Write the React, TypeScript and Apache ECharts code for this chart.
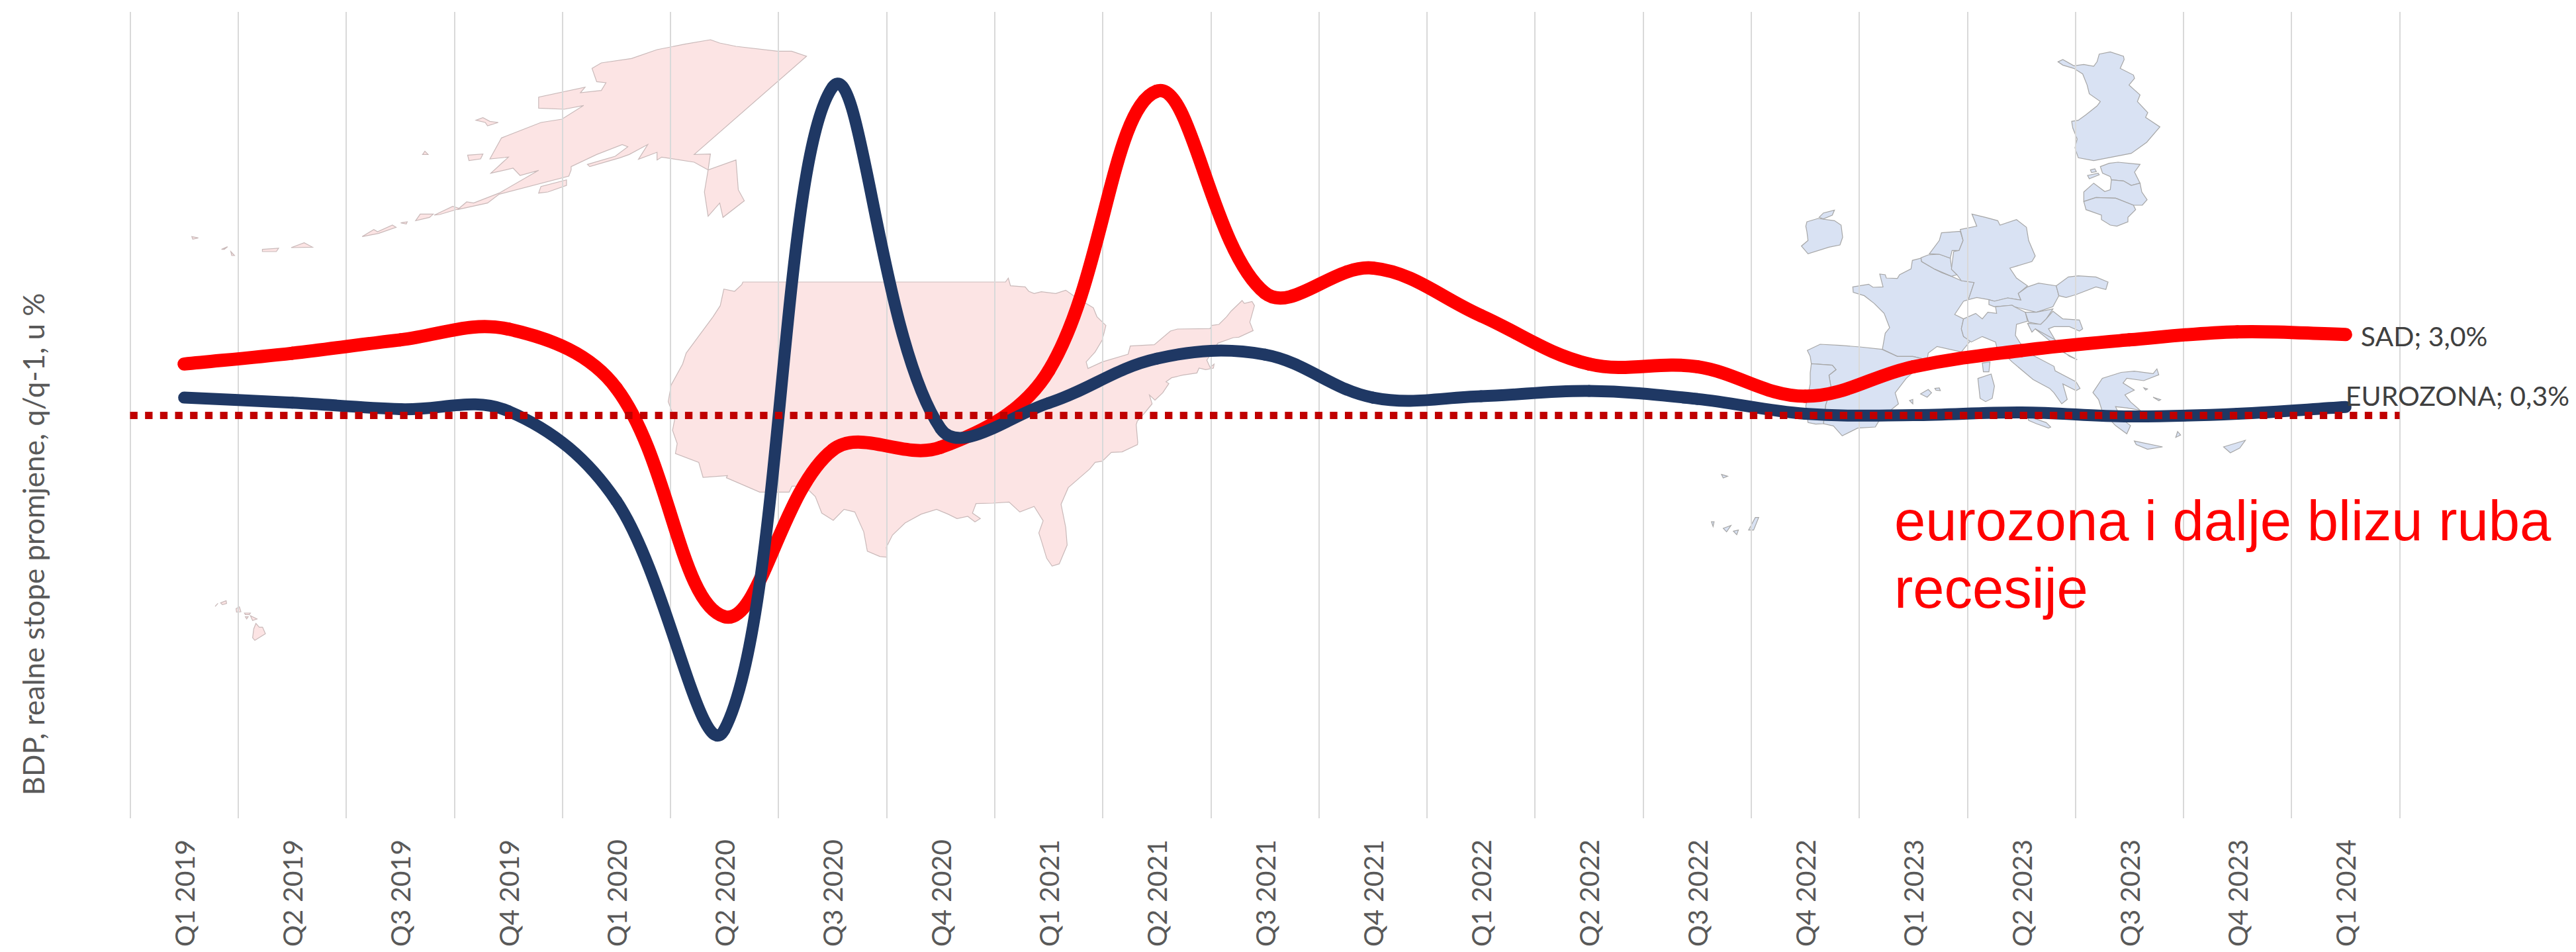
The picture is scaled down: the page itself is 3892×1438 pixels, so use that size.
import React, { useEffect, useRef } from "react";
import * as echarts from "echarts";

const categories = ["Q1 2019","Q2 2019","Q3 2019","Q4 2019","Q1 2020","Q2 2020","Q3 2020","Q4 2020","Q1 2021","Q2 2021","Q3 2021","Q4 2021","Q1 2022","Q2 2022","Q3 2022","Q4 2022","Q1 2023","Q2 2023","Q3 2023","Q4 2023","Q1 2024"];
const sad = [1.9,2.3,2.8,3.2,1.0,-7.5,-1.3,-1.2,1.65,12.05,4.55,5.47,3.7,1.9,1.8,0.7,1.8,2.4,2.8,3.1,3.0];
const eurozona = [0.65,0.46,0.22,0.15,-3.2,-11.7,12.2,-0.5,0.45,2.1,2.25,0.65,0.7,0.9,0.6,0.05,0.0,0.1,-0.05,0.05,0.3];
const sadLabel = "SAD; 3,0%";
const euroLabel = "EUROZONA; 0,3%";
const yTitle = "BDP, realne stope promjene, q/q-1, u %";
const note = "eurozona i dalje blizu ruba\nrecesije";

type Pt = [number, number];
const z = (ox: number, oy: number, sx: number, sy: number, pts: number[][]): Pt[] =>
  pts.map(([a, b]) => [ox + a / sx, oy + b / sy] as Pt);
const z3 = (ox: number, oy: number) => (pts: number[][]) => z(ox, oy, 3, 3, pts);
const zUS = (pts: number[][]) => z(950, 400, 1.845, 3, pts);
const zAK = (pts: number[][]) => z(200, 0, 1.4255, 3, pts);
const zNE = z3(1700, 420);
const zHI = z3(250, 860);
const zEU = z3(2700, 300);
const zFI = z3(3080, 60);
const zGR = (pts: number[][]) => z(3000, 400, 1.758, 2.8, pts);
const zCA = (pts: number[][]) => z(2550, 50, 1.96, 1.845, pts);

const usShapes: Pt[][] = [
  [
    ...zUS([[318,78],[1050,78],[1058,60],[1064,95],[1105,100],[1115,120],[1130,130],[1150,122],[1190,130],[1218,115],[1240,140],[1270,170],[1295,195],[1305,235],[1330,275],[1320,340],[1300,395],[1275,440],[1280,470],[1320,440],[1392,405],[1398,368],[1465,362],[1510,300]]),
    ...zNE([[237,231],[385,229],[392,215],[425,210],[460,175],[480,150],[530,102],[540,115],[575,106],[586,125],[565,200],[580,238],[515,268],[490,270],[420,295],[405,320],[370,372],[385,405],[403,390],[400,408],[365,415],[335,408],[325,430],[260,440],[210,452],[185,470],[198,478],[170,520],[135,553],[110,530],[122,570],[85,615],[55,648],[50,665],[57,745]]),
    ...zUS([[1418,815],[1375,848],[1345,850],[1320,890],[1300,895],[1285,925],[1225,1010],[1205,1085],[1218,1190],[1222,1270],[1200,1355],[1180,1365],[1165,1330],[1150,1250],[1143,1215],[1155,1160],[1130,1095],[1090,1120],[1060,1075],[1015,1080],[968,1082],[958,1125],[980,1150],[965,1165],[945,1140],[915,1150],[890,1130],[858,1108],[815,1130],[770,1170],[735,1225],[718,1280],[720,1325],[700,1322],[665,1298],[655,1210],[630,1120],[600,1108],[570,1158],[538,1125],[520,1050],[490,1003],[455,1003],[447,1030],[365,1030],[272,965],[275,955],[207,963],[195,895],[130,855],[135,810],[122,750],[128,700],[110,620],[118,545],[150,450],[160,400],[235,235],[255,185],[265,110],[295,120],[315,90]]),
  ],
  zAK([[1245,180],[1265,195],[1300,210],[1390,232],[1420,232],[1452,255],[1210,700],[1245,698],[1240,770],[1210,735],[1140,712],[1130,725],[1130,690],[1090,722],[1110,655],[1070,700],[1050,715],[985,755],[980,745],[1040,708],[1067,665],[1055,655],[1000,700],[945,755],[945,770],[940,798],[790,880],[765,920],[700,950],[720,915],[735,920],[790,875],[875,772],[835,795],[820,762],[772,785],[810,712],[770,720],[795,625],[880,555],[925,540],[972,478],[930,495],[875,490],[875,440],[975,395],[965,420],[1010,410],[1020,375],[1000,370],[990,310],[1010,285],[1075,265],[1130,225],[1190,200]]),
  zAK([[1240,770],[1300,725],[1305,860],[1318,910],[1272,985],[1265,920],[1240,980],[1232,870]]),
  zAK([[875,875],[880,845],[935,815],[935,840],[895,870]]),
  zAK([[722,703],[755,698],[750,720],[725,728]]),
  zAK([[740,545],[755,533],[770,550],[788,555],[765,570],[760,555]]),
  zAK([[625,700],[630,685],[637,700]]),
  zAK([[495,1072],[520,1040],[528,1050],[560,1020],[568,1030],[530,1058]]),
  zAK([[610,1000],[620,970],[648,970],[640,985]]),
  zAK([[650,975],[690,935],[705,945],[662,972]]),
  zAK([[578,1010],[592,1005],[590,1015]]),
  zAK([[342,1122],[370,1100],[388,1120]]),
  zAK([[280,1130],[315,1125],[310,1140],[280,1140]]),
  zAK([[192,1130],[205,1118],[198,1130]]),
  zAK([[212,1140],[220,1158],[214,1158]]),
  zAK([[128,1072],[142,1078],[130,1084]]),
  zHI([[410,245],[425,262],[440,262],[453,292],[405,322],[395,310],[400,270]]),
  zHI([[385,210],[415,225],[395,232]]),
  zHI([[362,215],[375,215],[368,225]]),
  zHI([[358,198],[385,198],[380,205],[362,205]]),
  zHI([[320,178],[335,170],[342,192],[322,194]]),
  zHI([[250,152],[275,142],[277,155],[258,160]]),
  zHI([[225,168],[238,154],[228,165]]),
];

const euShapes: Pt[][] = [
  zEU([[90,105],[140,90],[215,100],[245,120],[252,175],[240,210],[190,220],[95,250],[65,215],[95,190],[90,150],[85,125]]),
  zEU([[145,85],[165,65],[215,52],[205,75],[165,92]]),
  zEU([[298,400],[370,388],[390,402],[435,400],[420,342],[445,345],[450,360],[500,362],[510,345],[562,318],[568,280],[607,270],[610,285],[670,320],[700,335],[745,352],[790,372],[848,380],[822,458],[800,465],[760,525],[800,545],[790,590],[800,625],[835,640],[790,695],[680,670],[640,700],[635,730],[570,715],[500,715],[432,683],[445,610],[465,585],[440,520],[395,475],[350,440],[300,425]]),
  zEU([[92,688],[150,660],[240,665],[330,672],[430,683],[500,715],[570,715],[635,730],[540,815],[490,880],[505,930],[480,950],[415,1010],[400,1035],[320,1040],[250,1075],[210,1030],[165,1020],[175,935],[200,860],[190,800],[222,775],[205,755],[110,748],[105,715]]),
  zEU([[110,748],[205,755],[222,775],[190,800],[200,860],[175,935],[165,1020],[130,1022],[95,1015],[85,940],[105,840],[105,790]]),
  zEU([[607,268],[640,255],[690,252],[740,270],[745,310],[770,345],[745,352],[670,320],[610,285]]),
  zEU([[645,250],[690,190],[700,155],[785,148],[798,190],[780,235],[748,235],[740,270],[690,252]]),
  zEU([[785,140],[860,125],[838,70],[900,85],[955,100],[965,120],[1040,95],[1085,130],[1095,190],[1125,260],[1110,285],[1010,315],[1040,360],[1090,395],[1048,430],[1060,460],[1000,450],[940,465],[915,458],[860,448],[822,458],[848,380],[790,372],[770,345],[745,320],[755,240],[780,235],[798,190]]),
  zEU([[1090,400],[1140,383],[1220,395],[1232,440],[1205,490],[1130,515],[1030,490],[1020,483],[940,490],[915,480],[915,458],[940,465],[1000,450],[1060,460],[1048,430]]),
  zEU([[1220,395],[1275,355],[1320,350],[1400,355],[1455,378],[1445,412],[1400,400],[1310,435],[1265,448],[1232,440]]),
  zEU([[800,545],[855,520],[885,545],[910,515],[950,520],[945,490],[1020,483],[1030,490],[1080,515],[1090,555],[1040,570],[1035,620],[1060,660],[1115,710],[1210,760],[1215,780],[1310,830],[1328,860],[1310,870],[1250,840],[1270,910],[1245,930],[1210,880],[1190,860],[1115,820],[1020,740],[950,670],[945,650],[885,625],[835,650],[800,625],[790,590]]),
  zEU([[1090,985],[1175,1015],[1195,1035],[1185,1040],[1130,1020],[1095,1005]]),
  zEU([[865,815],[925,795],[940,850],[930,905],[900,920],[875,905]]),
  zEU([[885,745],[920,740],[915,785],[890,785]]),
  zEU([[605,885],[640,865],[655,880],[635,900]]),
  zEU([[670,860],[690,858],[695,870],[675,868]]),
  zEU([[555,915],[570,910],[570,930]]),
  zEU([[1080,515],[1130,515],[1205,500],[1175,545],[1150,570],[1095,560]]),
  zEU([[1205,510],[1250,545],[1325,550],[1340,590],[1325,600],[1280,580],[1210,580],[1185,590],[1215,640],[1180,630],[1125,590],[1110,605],[1090,565],[1150,570],[1175,545]]),
  zEU([[1215,640],[1240,690],[1315,730],[1280,715],[1210,660],[1125,590]]),
  zFI([[88,100],[110,90],[160,118],[205,112],[250,120],[265,100],[275,65],[325,55],[385,75],[388,90],[370,130],[430,160],[435,175],[410,205],[460,250],[448,280],[495,330],[485,352],[550,395],[490,465],[420,515],[250,548],[180,535],[165,490],[175,450],[155,400],[150,370],[180,365],[215,340],[265,300],[280,280],[230,245],[220,205],[200,155],[160,130],[110,115]]),
  zFI([[280,575],[320,560],[360,555],[460,565],[435,600],[460,650],[420,660],[385,640],[330,635],[325,620],[290,605]]),
  zFI([[222,615],[270,605],[275,612],[230,630]]),
  zFI([[235,590],[255,585],[262,598],[240,602]]),
  zFI([[205,690],[250,650],[300,688],[325,680],[330,635],[385,640],[420,660],[460,650],[468,690],[492,725],[470,750],[430,750],[350,718],[260,715],[205,733]]),
  zFI([[205,733],[260,715],[350,718],[430,750],[440,770],[405,805],[405,825],[355,845],[325,840],[285,815],[285,795],[215,770]]),
  zGR([[285,540],[310,480],[360,455],[395,450],[445,460],[455,440],[460,465],[420,490],[375,480],[365,500],[395,530],[370,550],[385,580],[410,615],[375,605],[345,600],[360,650],[385,680],[375,715],[345,680],[310,620],[300,570]]),
  zGR([[395,745],[470,770],[430,780],[400,760]]),
  zGR([[632,770],[690,742],[675,775],[650,795]]),
  zGR([[445,560],[465,570],[460,575]]),
  zGR([[510,705],[518,720],[505,730]]),
  zGR([[420,520],[430,525],[425,530]]),
  zCA([[100,1230],[118,1235],[105,1240]]),
  zCA([[105,1380],[128,1372],[115,1390]]),
  zCA([[135,1388],[150,1385],[145,1398]]),
  zCA([[180,1385],[200,1350],[210,1350],[195,1385]]),
  zCA([[70,1362],[78,1362],[75,1375]]),
];

const tension = 0.37;

function bezier(api: any, vals: number[], i: number) {
  const p = (k: number): number[] => {
    const j = Math.max(0, Math.min(vals.length - 1, k));
    return api.coord([j, vals[j]]);
  };
  const p0 = p(i - 1), p1 = p(i), p2 = p(i + 1), p3 = p(i + 2);
  const d = (a: number[], b: number[]) => Math.hypot(a[0] - b[0], a[1] - b[1]);
  const a = d(p0, p1), b = d(p1, p2), c = d(p2, p3);
  const k1 = (b / (a + b || 1)) * tension;
  const k2 = (b / (b + c || 1)) * tension;
  return {
    x1: p1[0], y1: p1[1], x2: p2[0], y2: p2[1],
    cpx1: p1[0] + (p2[0] - p0[0]) * k1,
    cpy1: p1[1] + (p2[1] - p0[1]) * k1,
    cpx2: p2[0] - (p3[0] - p1[0]) * k2,
    cpy2: p2[1] - (p3[1] - p1[1]) * k2,
  };
}

function curveSeries(name: string, vals: number[], color: string, width: number, label: string, dx: number, dy: number, zv: number) {
  return {
    name,
    type: "custom",
    z: zv,
    silent: true,
    clip: false,
    encode: { x: 0, y: 1 },
    data: vals.map((v, i) => [i, v]),
    renderItem: (params: any, api: any) => {
      const i = params.dataIndex;
      if (i === vals.length - 1) {
        const p = api.coord([i, vals[i]]);
        return {
          type: "text",
          x: p[0] + dx,
          y: p[1] + dy,
          style: { text: label, fill: "#404040", font: "41px Lato, Carlito, sans-serif", align: "left", verticalAlign: "middle" },
        };
      }
      return {
        type: "bezierCurve",
        shape: bezier(api, vals, i),
        style: { stroke: color, lineWidth: width, lineCap: "round", fill: "none" },
      };
    },
  };
}

export default function App() {
  const ref = useRef<HTMLDivElement>(null);
  useEffect(() => {
    const chart = echarts.init(ref.current!, undefined, { renderer: "svg" });
    const map = (shapes: Pt[][], fill: string, stroke: string) =>
      shapes.map((points) => ({
        type: "polygon",
        z: -1,
        silent: true,
        shape: { points },
        style: { fill, stroke, lineWidth: 1.2 },
      }));
    chart.setOption({
      animation: false,
      backgroundColor: "#ffffff",
      grid: { left: 196.5, top: 18, width: 3429, height: 1218, containLabel: false },
      xAxis: {
        type: "category",
        data: categories,
        boundaryGap: true,
        axisLine: { show: false },
        axisTick: { show: false },
        splitLine: { show: true, interval: 0, lineStyle: { color: "#D9D9D9", width: 2 } },
        axisLabel: { interval: 0, rotate: 90, margin: 32, color: "#595959", fontSize: 41, fontFamily: "Lato" },
      },
      yAxis: { type: "value", min: -15, max: 15, show: false, splitLine: { show: false } },
      graphic: {
        elements: [
          ...map(usShapes, "#FCE4E4", "#C9B9B9"),
          ...map(euShapes, "#D9E2F3", "#A6A6A6"),
          {
            type: "text",
            x: 50,
            y: 822,
            rotation: Math.PI / 2,
            style: { text: yTitle, fill: "#595959", font: "44px Lato", align: "center", verticalAlign: "middle" },
          },
          {
            type: "text",
            x: 2862,
            y: 735,
            z: 10,
            style: { text: note, fill: "#FF0000", font: "85px 'Liberation Sans'", lineHeight: 102, align: "left", verticalAlign: "top" },
          },
        ],
      },
      series: [
        {
          name: "nula",
          type: "line",
          data: [],
          z: 1,
          silent: true,
          markLine: {
            silent: true,
            symbol: "none",
            label: { show: false },
            data: [{ yAxis: 0 }],
            lineStyle: { color: "#C00000", width: 11, type: [11.33, 11.33], cap: "butt" },
          },
        },
        curveSeries("SAD", sad, "#FF0000", 20, sadLabel, 23, 2, 2),
        curveSeries("EUROZONA", eurozona, "#1F3864", 18, euroLabel, 0, -17, 3),
      ],
    });
    return () => chart.dispose();
  }, []);
  return <div ref={ref} style={{ position: "fixed", left: 0, top: 0, width: 3892, height: 1438 }} />;
}
